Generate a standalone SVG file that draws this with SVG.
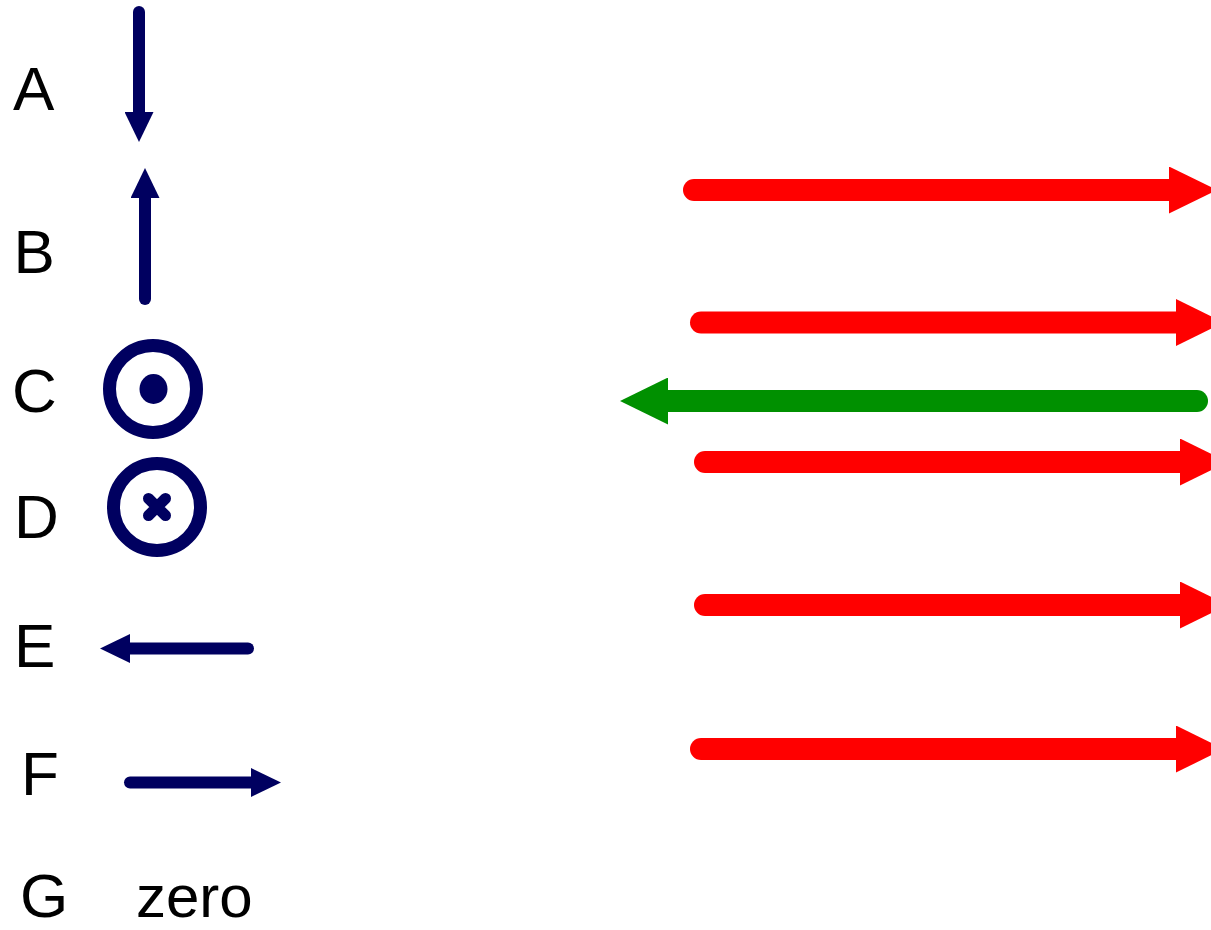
<svg xmlns="http://www.w3.org/2000/svg" width="1211" height="930" viewBox="0 0 1211 930">
  <style>
    .lbl { font-family: "Liberation Sans", Arial, sans-serif; font-size: 62px; fill: #000; }
    .navy { stroke: #000060; stroke-width: 12; stroke-linecap: round; fill: none; }
    .red { stroke: #ff0000; stroke-width: 22; stroke-linecap: round; fill: none; }
    .green { stroke: #009000; stroke-width: 22; stroke-linecap: round; fill: none; }
    .ring { stroke: #000060; stroke-width: 13; fill: none; }
  </style>
  <defs>
    <marker id="hNavy" markerUnits="userSpaceOnUse" viewBox="0 0 30 29" markerWidth="30" markerHeight="29" refX="0" refY="14.5" orient="auto">
      <path d="M0,0 L30,14.5 L0,29 Z" fill="#000060"/>
    </marker>
    <marker id="hRed" markerUnits="userSpaceOnUse" viewBox="0 0 48 47" markerWidth="48" markerHeight="47" refX="0" refY="23.5" orient="auto">
      <path d="M0,0 L48,23.5 L0,47 Z" fill="#ff0000"/>
    </marker>
    <marker id="hGreen" markerUnits="userSpaceOnUse" viewBox="0 0 48 47" markerWidth="48" markerHeight="47" refX="0" refY="23.5" orient="auto">
      <path d="M0,0 L48,23.5 L0,47 Z" fill="#009000"/>
    </marker>
  </defs>
  <rect width="1211" height="930" fill="#fff"/>

  <g id="labels">
    <text class="lbl" x="13" y="110">A</text>
    <text class="lbl" x="13.5" y="273">B</text>
    <text class="lbl" x="12" y="412">C</text>
    <text class="lbl" x="14" y="538">D</text>
    <text class="lbl" x="14" y="667">E</text>
    <text class="lbl" x="21" y="795">F</text>
    <text class="lbl" x="20" y="917">G</text>
    <text class="lbl" x="136" y="917" style="font-size:60px">zero</text>
  </g>

  <g id="node-C">
    <circle class="ring" cx="153" cy="389" r="43.5"/>
    <ellipse cx="153.5" cy="389" rx="14" ry="15" fill="#000060"/>
  </g>
  <g id="node-D">
    <circle class="ring" cx="157" cy="507" r="43.5"/>
    <path class="navy" style="stroke-width:11" d="M148.5,498.5 L165.5,515.5 M165.5,498.5 L148.5,515.5"/>
  </g>

  <g id="connectors">
    <line class="navy" x1="139" y1="12" x2="139" y2="112" marker-end="url(#hNavy)"/>
    <line class="navy" x1="145" y1="299" x2="145" y2="198" marker-end="url(#hNavy)"/>
    <line class="navy" x1="248" y1="648.5" x2="130" y2="648.5" marker-end="url(#hNavy)"/>
    <line class="navy" x1="130" y1="782.5" x2="251" y2="782.5" marker-end="url(#hNavy)"/>

    <line class="red" x1="694" y1="190" x2="1169" y2="190" marker-end="url(#hRed)"/>
    <line class="red" x1="701" y1="322.5" x2="1176" y2="322.5" marker-end="url(#hRed)"/>
    <line class="green" x1="1197" y1="401" x2="668" y2="401" marker-end="url(#hGreen)"/>
    <line class="red" x1="705" y1="462" x2="1180" y2="462" marker-end="url(#hRed)"/>
    <line class="red" x1="705" y1="605" x2="1180" y2="605" marker-end="url(#hRed)"/>
    <line class="red" x1="701" y1="749" x2="1176" y2="749" marker-end="url(#hRed)"/>
  </g>
</svg>
